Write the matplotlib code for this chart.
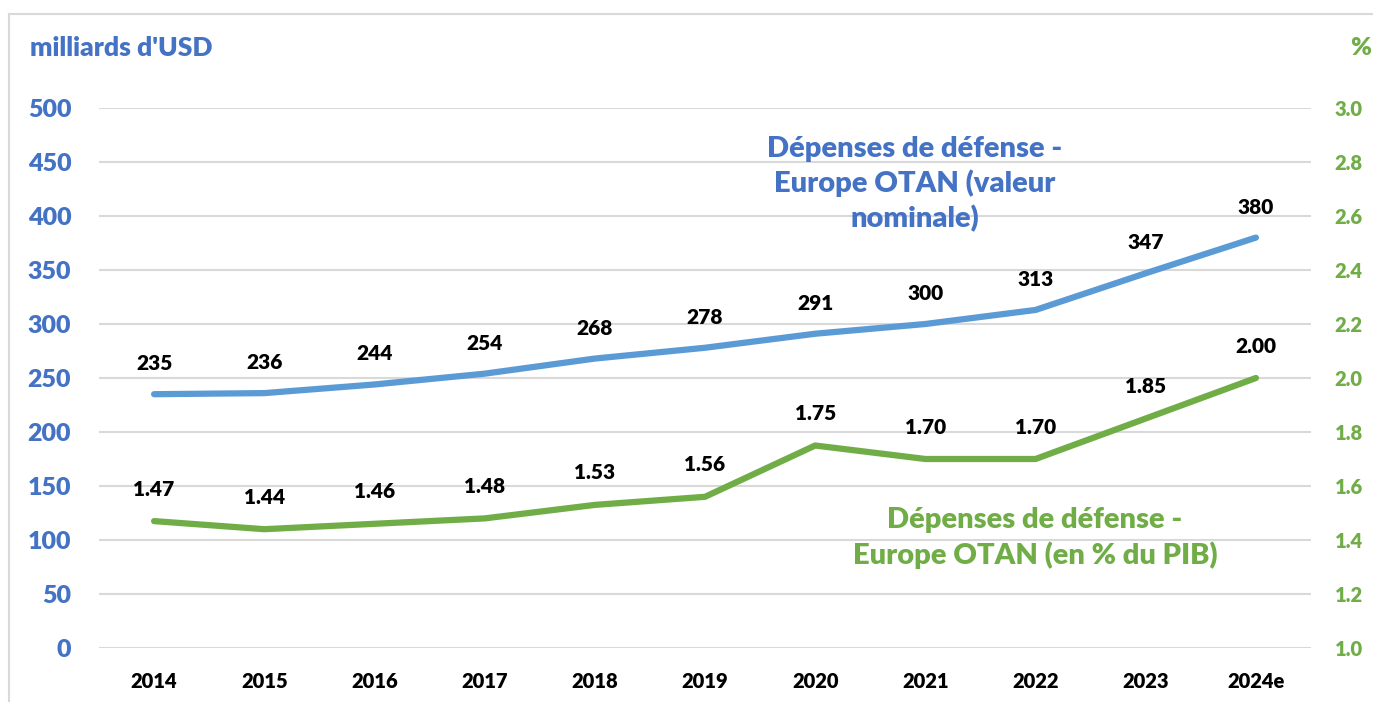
import matplotlib.pyplot as plt
from matplotlib.lines import Line2D

plt.rcParams['font.family'] = ['Lato', 'DejaVu Sans']
plt.rcParams['font.weight'] = 'heavy'

years = ['2014', '2015', '2016', '2017', '2018', '2019', '2020', '2021', '2022', '2023', '2024e']
nominal = [235, 236, 244, 254, 268, 278, 291, 300, 313, 347, 380]
pct_gdp = [1.47, 1.44, 1.46, 1.48, 1.53, 1.56, 1.75, 1.70, 1.70, 1.85, 2.00]

blue_line = '#5B9BD5'
blue_text = '#4472C4'
green = '#70AD47'
grid_col = '#D9D9D9'
W = 'heavy'

fig = plt.figure(figsize=(13.73, 7.02), dpi=100)
ax = fig.add_axes([99 / 1373, 54 / 702, 1212 / 1373, 540 / 702])
ax2 = ax.twinx()

x = list(range(len(years)))

ax.plot(x, nominal, color=blue_line, lw=4.5, solid_capstyle='round', zorder=3)
ax2.plot(x, pct_gdp, color=green, lw=4.5, solid_capstyle='round', zorder=3)

ax.set_xlim(-0.5, len(years) - 0.5)
ax.set_ylim(0, 500)
ax2.set_ylim(1.0, 3.0)
ax.set_yticks(range(0, 501, 50))
ax2.set_yticks([1.0 + 0.2 * i for i in range(11)])
ax2.set_yticklabels(['%.1f' % (1.0 + 0.2 * i) for i in range(11)])
ax.set_xticks(x)
ax.set_xticklabels(years)

ax.grid(axis='y', color=grid_col, lw=1.5)
ax.set_axisbelow(True)
for a in (ax, ax2):
    for s in a.spines.values():
        s.set_visible(False)
    a.tick_params(length=0)

ax.tick_params(axis='y', colors=blue_text, labelsize=18, pad=20)
ax.tick_params(axis='x', colors='black', labelsize=14.5, pad=17)
ax2.tick_params(axis='y', colors=green, labelsize=14.5, pad=17)
for lab in ax.get_yticklabels() + ax.get_xticklabels() + ax2.get_yticklabels():
    lab.set_fontweight(W)
for lab in ax2.get_yticklabels():
    lab.set_color(green)

for xi, v in zip(x, nominal):
    ax.annotate(str(v), (xi, v), xytext=(0, 22), textcoords='offset points',
                ha='center', va='center', fontsize=15, color='black', fontweight=W)
for xi, v in zip(x, pct_gdp):
    ax2.annotate('%.2f' % v, (xi, v), xytext=(0, 23), textcoords='offset points',
                 ha='center', va='center', fontsize=15, color='black', fontweight=W)

fig.text(30 / 1373, 1 - 48 / 702, "milliards d'USD", color=blue_text, fontsize=19,
         ha='left', va='center', fontweight=W)
fig.text(1371 / 1373, 1 - 48 / 702, '%', color=green, fontsize=18,
         ha='right', va='center', fontweight=W)

fig.text(915 / 1373, 1 - 184 / 702, 'Dépenses de défense -\nEurope OTAN (valeur\nnominale)',
         color=blue_text, fontsize=21, ha='center', va='center', linespacing=1.35,
         fontweight=W)
fig.text(1035 / 1373, 1 - 538 / 702, 'Dépenses de défense -\nEurope OTAN (en % du PIB)',
         color=green, fontsize=21, ha='center', va='center', linespacing=1.35,
         fontweight=W)

# light outer frame
fig.add_artist(Line2D([9 / 1373, 9 / 1373], [0, 1 - 14 / 702], color=grid_col, lw=1.5))
fig.add_artist(Line2D([9 / 1373, 1], [1 - 14 / 702, 1 - 14 / 702], color=grid_col, lw=1.5))

fig.savefig('out.png', dpi=100)
